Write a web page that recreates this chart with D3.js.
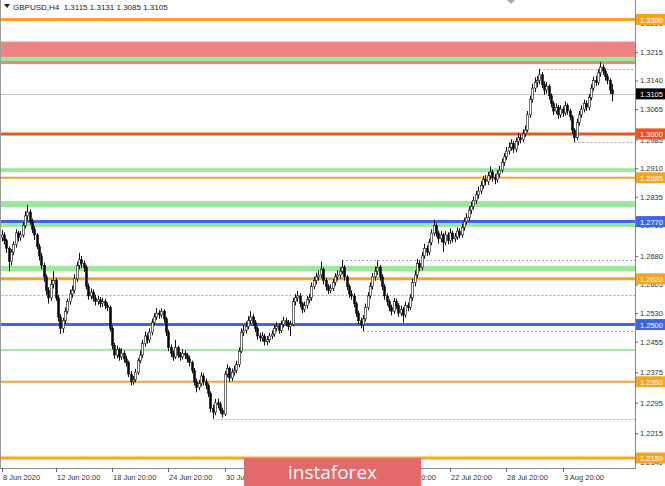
<!DOCTYPE html>
<html><head><meta charset="utf-8">
<script src="https://cdn.jsdelivr.net/npm/d3@7"></script>
<style>html,body{margin:0;padding:0;background:#fff;overflow:hidden}svg{display:block}</style>
</head><body>
<script>
// ---------- DATA ----------
const symbolTitle = "GBPUSD,H4";
const lastOHLC = [1.3115, 1.3131, 1.3085, 1.3105];
const firstOpen = 1.2728;
const closes = [1.2735,1.2720,1.2700,1.2665,1.2690,1.2710,1.2740,1.2728,1.2735,1.2760,1.2785,1.2795,1.2770,1.2750,1.2735,1.2705,1.2680,1.2655,1.2625,1.2590,
1.2570,1.2605,1.2615,1.2570,1.2520,1.2490,1.2510,1.2535,1.2560,1.2580,1.2590,1.2620,1.2655,1.2670,1.2660,1.2650,1.2600,1.2575,1.2585,1.2570,
1.2560,1.2565,1.2555,1.2560,1.2550,1.2545,1.2490,1.2445,1.2420,1.2435,1.2415,1.2425,1.2410,1.2400,1.2370,1.2350,1.2355,1.2375,1.2405,1.2420,
1.2450,1.2470,1.2460,1.2480,1.2505,1.2520,1.2530,1.2525,1.2535,1.2515,1.2480,1.2440,1.2425,1.2415,1.2440,1.2420,1.2415,1.2425,1.2420,1.2410,
1.2400,1.2380,1.2350,1.2335,1.2345,1.2365,1.2350,1.2340,1.2320,1.2280,1.2270,1.2295,1.2290,1.2275,1.2265,1.2370,1.2385,1.2360,1.2375,1.2380,
1.2395,1.2430,1.2480,1.2485,1.2495,1.2510,1.2520,1.2505,1.2490,1.2470,1.2465,1.2470,1.2455,1.2460,1.2470,1.2475,1.2490,1.2495,1.2485,1.2500,
1.2510,1.2505,1.2495,1.2500,1.2560,1.2570,1.2575,1.2555,1.2540,1.2550,1.2565,1.2570,1.2600,1.2615,1.2625,1.2630,1.2645,1.2615,1.2600,1.2590,
1.2595,1.2610,1.2625,1.2630,1.2640,1.2650,1.2625,1.2600,1.2580,1.2575,1.2555,1.2530,1.2510,1.2500,1.2515,1.2545,1.2575,1.2600,1.2625,1.2640,
1.2650,1.2625,1.2600,1.2575,1.2560,1.2545,1.2535,1.2560,1.2550,1.2530,1.2540,1.2525,1.2550,1.2545,1.2570,1.2610,1.2630,1.2660,1.2650,1.2680,
1.2700,1.2690,1.2715,1.2740,1.2760,1.2740,1.2725,1.2735,1.2715,1.2735,1.2720,1.2740,1.2725,1.2730,1.2745,1.2735,1.2755,1.2770,1.2780,1.2800,
1.2810,1.2825,1.2840,1.2850,1.2865,1.2880,1.2875,1.2890,1.2900,1.2885,1.2880,1.2895,1.2905,1.2925,1.2940,1.2955,1.2965,1.2975,1.2960,1.2980,
1.2990,1.2985,1.3000,1.3010,1.3050,1.3090,1.3120,1.3135,1.3140,1.3155,1.3130,1.3115,1.3125,1.3100,1.3080,1.3060,1.3070,1.3050,1.3065,1.3055,
1.3075,1.3060,1.3045,1.3010,1.2990,1.3030,1.3050,1.3065,1.3080,1.3070,1.3095,1.3120,1.3140,1.3135,1.3160,1.3175,1.3165,1.3150,1.3140,1.3115,
1.3105];
const highs = [1.2748,1.2742,1.2725,1.2705,1.2698,1.2718,1.2750,1.2746,1.2745,1.2768,1.2798,1.2814,1.2802,1.2778,1.2758,1.2740,1.2712,1.2688,1.2662,1.2632,
1.2598,1.2618,1.2640,1.2622,1.2578,1.2528,1.2518,1.2545,1.2568,1.2592,1.2602,1.2632,1.2665,1.2688,1.2680,1.2668,1.2656,1.2608,1.2595,1.2592,
1.2578,1.2575,1.2572,1.2570,1.2568,1.2558,1.2550,1.2496,1.2452,1.2445,1.2440,1.2438,1.2432,1.2418,1.2405,1.2378,1.2365,1.2384,1.2412,1.2432,
1.2460,1.2482,1.2478,1.2490,1.2515,1.2530,1.2543,1.2538,1.2543,1.2540,1.2520,1.2486,1.2448,1.2432,1.2460,1.2445,1.2428,1.2435,1.2432,1.2426,
1.2418,1.2405,1.2386,1.2358,1.2355,1.2375,1.2372,1.2358,1.2346,1.2325,1.2290,1.2305,1.2306,1.2298,1.2282,1.2378,1.2396,1.2390,1.2385,1.2392,
1.2405,1.2440,1.2490,1.2498,1.2508,1.2522,1.2535,1.2528,1.2512,1.2495,1.2478,1.2480,1.2476,1.2470,1.2478,1.2485,1.2500,1.2506,1.2502,1.2510,
1.2520,1.2518,1.2512,1.2510,1.2570,1.2580,1.2588,1.2582,1.2560,1.2560,1.2575,1.2580,1.2610,1.2625,1.2636,1.2642,1.2665,1.2650,1.2622,1.2606,
1.2605,1.2620,1.2635,1.2642,1.2650,1.2669,1.2656,1.2630,1.2606,1.2590,1.2582,1.2560,1.2536,1.2518,1.2525,1.2555,1.2585,1.2610,1.2635,1.2652,
1.2668,1.2656,1.2632,1.2606,1.2582,1.2566,1.2552,1.2570,1.2568,1.2556,1.2550,1.2546,1.2560,1.2558,1.2580,1.2620,1.2642,1.2672,1.2668,1.2690,
1.2712,1.2708,1.2725,1.2750,1.2775,1.2766,1.2746,1.2745,1.2740,1.2745,1.2742,1.2752,1.2746,1.2740,1.2755,1.2752,1.2765,1.2780,1.2792,1.2810,
1.2822,1.2836,1.2850,1.2862,1.2876,1.2890,1.2892,1.2900,1.2915,1.2906,1.2895,1.2905,1.2916,1.2935,1.2950,1.2966,1.2978,1.2986,1.2982,1.2990,
1.3002,1.2998,1.3012,1.3022,1.3060,1.3100,1.3132,1.3148,1.3152,1.3170,1.3162,1.3138,1.3136,1.3130,1.3106,1.3086,1.3080,1.3076,1.3075,1.3072,
1.3085,1.3080,1.3066,1.3050,1.3015,1.3040,1.3060,1.3075,1.3090,1.3088,1.3105,1.3130,1.3150,1.3152,1.3170,1.3188,1.3182,1.3172,1.3158,1.3146,
1.3131];
const lows = [1.2718,1.2710,1.2688,1.2640,1.2655,1.2682,1.2702,1.2718,1.2720,1.2728,1.2752,1.2772,1.2762,1.2740,1.2722,1.2698,1.2668,1.2645,1.2612,1.2578,
1.2555,1.2562,1.2595,1.2562,1.2508,1.2475,1.2478,1.2502,1.2528,1.2552,1.2570,1.2582,1.2612,1.2645,1.2648,1.2638,1.2592,1.2565,1.2566,1.2560,
1.2550,1.2552,1.2545,1.2546,1.2540,1.2535,1.2482,1.2435,1.2410,1.2412,1.2405,1.2408,1.2400,1.2390,1.2362,1.2340,1.2342,1.2348,1.2368,1.2398,
1.2412,1.2442,1.2450,1.2452,1.2472,1.2498,1.2512,1.2515,1.2518,1.2505,1.2470,1.2430,1.2415,1.2405,1.2410,1.2412,1.2405,1.2408,1.2410,1.2400,
1.2390,1.2372,1.2340,1.2322,1.2328,1.2338,1.2340,1.2330,1.2310,1.2270,1.2253,1.2262,1.2280,1.2266,1.2256,1.2260,1.2362,1.2350,1.2352,1.2366,
1.2372,1.2388,1.2425,1.2470,1.2476,1.2488,1.2502,1.2496,1.2480,1.2460,1.2455,1.2456,1.2445,1.2446,1.2452,1.2462,1.2468,1.2482,1.2476,1.2478,
1.2492,1.2496,1.2485,1.2470,1.2495,1.2550,1.2560,1.2545,1.2530,1.2532,1.2542,1.2556,1.2562,1.2592,1.2606,1.2615,1.2622,1.2605,1.2590,1.2580,
1.2582,1.2588,1.2602,1.2615,1.2620,1.2632,1.2615,1.2590,1.2570,1.2565,1.2545,1.2520,1.2500,1.2490,1.2483,1.2508,1.2538,1.2568,1.2592,1.2615,
1.2630,1.2615,1.2590,1.2565,1.2550,1.2535,1.2524,1.2528,1.2540,1.2520,1.2522,1.2505,1.2518,1.2535,1.2538,1.2562,1.2600,1.2622,1.2640,1.2642,
1.2672,1.2680,1.2682,1.2708,1.2732,1.2730,1.2712,1.2716,1.2690,1.2708,1.2710,1.2712,1.2715,1.2716,1.2722,1.2726,1.2728,1.2746,1.2762,1.2772,
1.2790,1.2802,1.2816,1.2830,1.2842,1.2856,1.2865,1.2866,1.2880,1.2875,1.2868,1.2872,1.2886,1.2898,1.2916,1.2932,1.2946,1.2956,1.2950,1.2952,
1.2970,1.2975,1.2978,1.2992,1.3004,1.3042,1.3082,1.3110,1.3122,1.3130,1.3120,1.3102,1.3106,1.3090,1.3070,1.3050,1.3052,1.3040,1.3042,1.3045,
1.3048,1.3050,1.3035,1.3000,1.2979,1.2984,1.3022,1.3042,1.3056,1.3060,1.3062,1.3088,1.3112,1.3125,1.3128,1.3150,1.3155,1.3140,1.3130,1.3105,
1.3085];

// horizontal levels
const levelPrices = [1.3300, 1.3000, 1.2885, 1.2770, 1.2620, 1.2500, 1.2350, 1.2150];
const levelKinds  = ["orange","red","orangeThin","blue","orange","blue","orangeThin","orange"];
const zoneTop = 1.3242, zoneBottom = 1.3183;
const greenBandTops    = [1.3202, 1.2910, 1.2824, 1.2766, 1.2654, 1.2436];
const greenBandBottoms = [1.3191, 1.2900, 1.2808, 1.2756, 1.2640, 1.2431];
const dottedPrices = [1.3170, 1.2979, 1.2669, 1.2578, 1.2483, 1.2252];
const dottedStartBar = [229, 244, 145, 0, 154, 90];
const dottedKinds = ["blue","blue","blue","blue","blue","green"];
const currentPrice = 1.3105;

// axis labels
const yTickValues = [1.3290,1.3215,1.3140,1.3065,1.2985,1.2910,1.2835,1.2760,1.2680,1.2605,1.2530,1.2455,1.2375,1.2295,1.2215,1.2140];
const xTickLabels = ["8 Jun 2020","12 Jun 20:00","18 Jun 20:00","24 Jun 20:00","30 Jun 20:00","6 Jul 20:00","10 Jul 20:00","16 Jul 20:00","22 Jul 20:00","28 Jul 20:00","3 Aug 20:00"];
const xTickBars = [0,23,47,71,95,119,143,167,191,215,239];
const watermarkText = "instaforex";

// ---------- STYLE ----------
const W = 665, H = 486;
const plotRight = 635, plotBottom = 468;
const colors = {orange:"#f5a524", orangeThin:"#f5a524", red:"#f2521c", blue:"#3f66de"};
const widths = {orange:3, orangeThin:2, red:3, blue:3};
const dotColors = {blue:"#8ea7c4", green:"#8fd98f"};
const FONT = "'Liberation Sans', Arial, sans-serif";

const opens = closes.map((c, i) => i === 0 ? firstOpen : closes[i - 1]);

const svg = d3.select("body").append("svg").attr("width", W).attr("height", H);
const x = d3.scaleLinear().domain([0, closes.length - 1]).range([1.5, 612]);
const y = d3.scaleLinear().domain([1.2150, 1.3300]).range([458, 19.5]);

svg.append("clipPath").attr("id","plot").append("rect").attr("x",0).attr("y",0).attr("width",plotRight).attr("height",plotBottom);
const g = svg.append("g").attr("clip-path","url(#plot)");

// red zone
g.append("rect").attr("x",0).attr("width",plotRight)
  .attr("y", y(zoneTop)).attr("height", y(zoneBottom) - y(zoneTop)).attr("fill","#ef8383");
// green bands
g.selectAll(".gb").data(greenBandTops).join("rect")
  .attr("x",0).attr("width",plotRight)
  .attr("y", d => y(d)).attr("height", (d,i) => y(greenBandBottoms[i]) - y(d))
  .attr("fill","#9be99b");
// dotted lines
g.selectAll(".dl").data(dottedPrices).join("line")
  .attr("x1",(d,i)=>x(dottedStartBar[i])).attr("x2",plotRight)
  .attr("y1",d=>Math.round(y(d))+0.5).attr("y2",d=>Math.round(y(d))+0.5)
  .attr("stroke",(d,i)=>dotColors[dottedKinds[i]]).attr("stroke-width",1).attr("stroke-dasharray","2,2");
// current price line
g.append("line").attr("x1",0).attr("x2",plotRight)
  .attr("y1",Math.round(y(currentPrice))+0.5).attr("y2",Math.round(y(currentPrice))+0.5)
  .attr("stroke","#c4c4c4").attr("stroke-width",1);
// level lines
g.selectAll(".lv").data(levelPrices).join("line")
  .attr("x1",0).attr("x2",plotRight)
  .attr("y1",d=>y(d)).attr("y2",d=>y(d))
  .attr("stroke",(d,i)=>colors[levelKinds[i]]).attr("stroke-width",(d,i)=>widths[levelKinds[i]]);

// candles
const idx = d3.range(closes.length);
g.selectAll(".wick").data(idx).join("line")
  .attr("x1", i => Math.round(x(i)) + 0.5).attr("x2", i => Math.round(x(i)) + 0.5)
  .attr("y1", i => y(highs[i])).attr("y2", i => y(lows[i]))
  .attr("stroke","#111").attr("stroke-width",1);
g.selectAll(".body").data(idx).join("rect")
  .attr("x", i => Math.round(x(i)) - 0.5).attr("width", 2)
  .attr("y", i => y(Math.max(opens[i], closes[i])))
  .attr("height", i => Math.max(1, Math.abs(y(opens[i]) - y(closes[i]))))
  .attr("fill", i => closes[i] >= opens[i] ? "#ffffff" : "#000000")
  .attr("stroke","#111").attr("stroke-width",0.6);

// borders
svg.append("line").attr("x1",0.5).attr("x2",0.5).attr("y1",0).attr("y2",plotBottom).attr("stroke","#999");
svg.append("line").attr("x1",plotRight+0.5).attr("x2",plotRight+0.5).attr("y1",0).attr("y2",plotBottom).attr("stroke","#888");
svg.append("line").attr("x1",0).attr("x2",plotRight+1).attr("y1",plotBottom+0.5).attr("y2",plotBottom+0.5).attr("stroke","#888");

// right axis
const yAxis = d3.axisRight(y).tickValues(yTickValues).tickFormat(d3.format(".4f")).tickSize(3).tickPadding(2);
const ya = svg.append("g").attr("transform",`translate(${plotRight},0)`).call(yAxis);
ya.select(".domain").remove();
ya.selectAll("line").attr("stroke","#666");
ya.selectAll("text").attr("font-family",FONT).attr("font-size","7.5px").attr("fill","#333");

// bottom axis
const xa = svg.append("g");
xa.selectAll("line").data(xTickBars).join("line")
  .attr("x1",d=>Math.round(x(d))+0.5).attr("x2",d=>Math.round(x(d))+0.5)
  .attr("y1",plotBottom).attr("y2",plotBottom+4).attr("stroke","#666");
xa.selectAll("text").data(xTickLabels).join("text")
  .attr("x",(d,i)=>Math.round(x(xTickBars[i]))+1).attr("y",plotBottom+12)
  .attr("font-family",FONT).attr("font-size","7.5px").attr("fill","#333").text(d=>d);

// level price labels
const labelPrices = levelPrices.concat([currentPrice]);
const labelColors = levelKinds.map(k=>colors[k]).concat(["#000"]);
const lb = svg.selectAll(".lb").data(labelPrices).join("g")
  .attr("transform", d => `translate(${plotRight+1},${y(d)})`);
lb.append("rect").attr("x",0).attr("y",-5.5).attr("width",W-plotRight-1).attr("height",11)
  .attr("fill",(d,i)=>labelColors[i]);
lb.append("text").attr("x",4).attr("y",3).attr("font-family",FONT).attr("font-size","7.5px")
  .attr("fill","#fff").text(d=>d3.format(".4f")(d));

// header
svg.append("path").attr("d","M4,4 L10,4 L7,8 Z").attr("fill","#222");
svg.append("text").attr("x",13).attr("y",10).attr("font-family",FONT).attr("font-size","8px").attr("fill","#222")
  .attr("xml:space","preserve")
  .text(symbolTitle + "  " + lastOHLC.map(d3.format(".4f")).join(" "));
svg.append("path").attr("d","M507,0 L515,0 L511,4 Z").attr("fill","#aaa");

// watermark
svg.append("rect").attr("x",244).attr("y",458).attr("width",177).attr("height",30).attr("fill","#e36a6a");
svg.append("text").attr("x",332.5).attr("y",479).attr("text-anchor","middle")
  .attr("font-family","'Open Sans', sans-serif").attr("font-size","19px").attr("fill","#fff").text(watermarkText);
</script>
</body></html>
